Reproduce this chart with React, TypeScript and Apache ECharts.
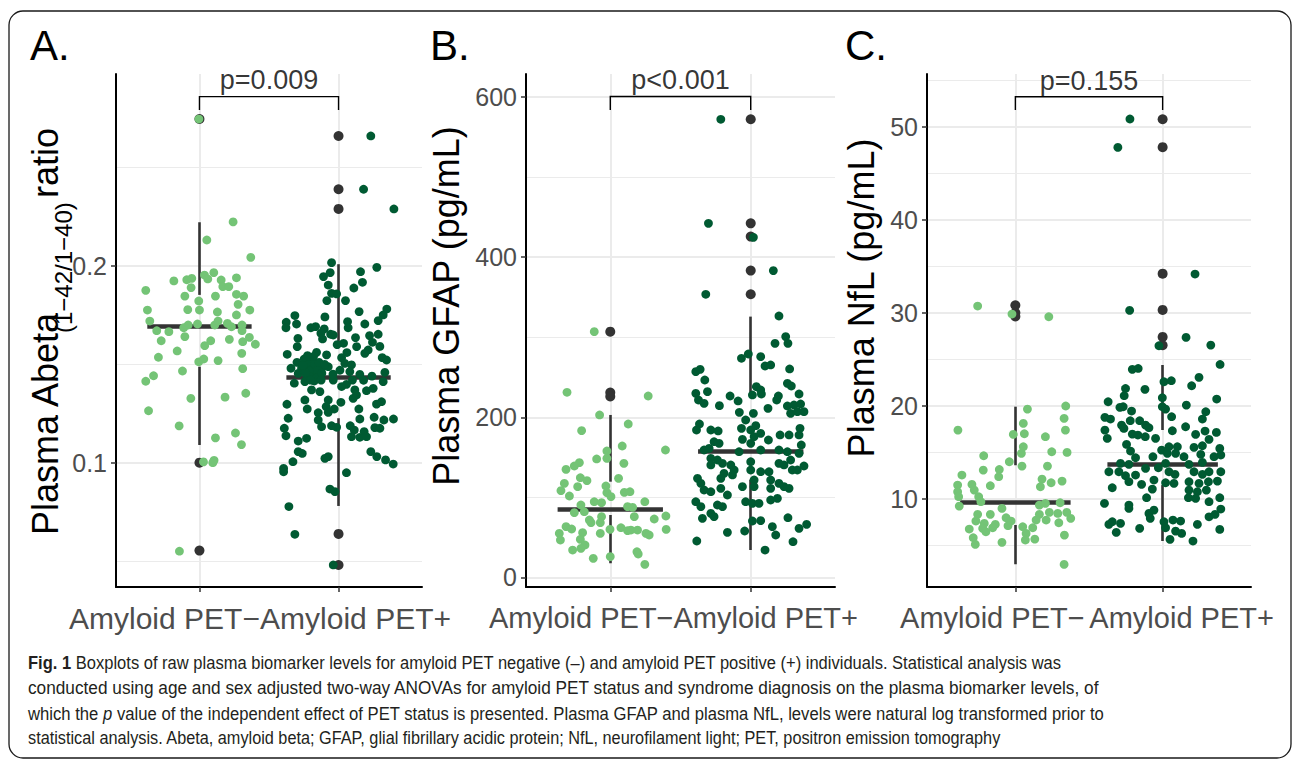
import { useEffect, useRef } from 'react';
import * as echarts from 'echarts';

// ---------- data ----------
const CATEGORIES = ['Amyloid PET−', 'Amyloid PET+'];
const P_LABELS = ['p=0.009', 'p<0.001', 'p=0.155'];

const ABETA_TICKS = [0.1, 0.2];
const ABETA_MINOR = [0.05, 0.15, 0.25];
const GFAP_TICKS = [0, 200, 400, 600];
const GFAP_MINOR = [100, 300, 500];
const NFL_TICKS = [10, 20, 30, 40, 50];
const NFL_MINOR = [5, 15, 25, 35, 45, 55];

// box stats: [lower whisker, Q1, median, Q3, upper whisker]
const ABETA_BOX_NEG = [0.109, 0.1488, 0.1695, 0.1853, 0.2222];
const ABETA_BOX_POS = [0.078, 0.1226, 0.1432, 0.159, 0.2009];
const GFAP_BOX_NEG = [17.5, 78, 84.9, 119.5, 202.9];
const GFAP_BOX_POS = [34.1, 122, 157, 225, 325.8];
const NFL_BOX_NEG = [2.95, 7.17, 9.61, 13.6, 19.9];
const NFL_BOX_POS = [5.45, 11.47, 13.73, 17.39, 24.38];

const ABETA_OUT_NEG = [0.2747, 0.1, 0.0553];
const ABETA_OUT_POS = [0.2661, 0.239, 0.229, 0.0638, 0.048];
const GFAP_OUT_NEG = [307, 231, 226];
const GFAP_OUT_POS = [572.4, 442.4, 425.8, 383.3, 353.7];
const NFL_OUT_NEG = [30.8, 30.0, 29.6];
const NFL_OUT_POS = [50.8, 47.8, 34.2, 30.3, 27.4, 26.5];

// jittered points [x position, value]
const ABETA_NEG = [
  [0.996,0.2747],[1.242,0.2224],[1.053,0.2132],[1.369,0.2044],[0.614,0.1876],[0.816,0.1924],[0.909,0.1930],[0.945,0.1937],[0.940,0.1890],[1.036,0.1954],[1.060,0.1934],[1.103,0.1966],[1.156,0.1929],[1.168,0.1895],[1.211,0.1895],[1.266,0.1940],[0.895,0.1847],[0.995,0.1822],[1.115,0.1847],[1.266,0.1856],[1.318,0.1847],[1.278,0.1805],[0.626,0.1776],[0.916,0.1778],[1.000,0.1776],[1.129,0.1766],[1.266,0.1751],[1.362,0.1776],[0.643,0.1720],[0.693,0.1671],[0.780,0.1666],[0.887,0.1686],[0.919,0.1700],[0.986,0.1705],[1.110,0.1700],[1.134,0.1720],[1.201,0.1708],[1.230,0.1691],[1.306,0.1700],[1.306,0.1671],[0.895,0.1641],[0.725,0.1620],[1.081,0.1620],[1.038,0.1595],[1.215,0.1627],[1.311,0.1615],[1.359,0.1637],[1.402,0.1602],[0.840,0.1568],[0.705,0.1536],[0.995,0.1513],[1.031,0.1527],[1.134,0.1519],[1.304,0.1556],[1.311,0.1478],[0.670,0.1442],[0.614,0.1414],[0.878,0.1466],[0.938,0.1327],[1.184,0.1333],[1.333,0.1353],[0.634,0.1264],[0.854,0.1187],[1.115,0.1126],[1.259,0.1151],[1.302,0.1092],[1.029,0.1004],[1.096,0.1000],[1.105,0.1012],[0.856,0.0550]
];
const ABETA_POS = [
  [2.232,0.2661],[2.180,0.2390],[2.398,0.2290],[1.950,0.2017],[2.275,0.1993],[1.940,0.1966],[2.158,0.1971],[1.892,0.1946],[2.172,0.1917],[1.926,0.1903],[2.110,0.1888],[1.950,0.1861],[1.986,0.1858],[2.050,0.1824],[1.916,0.1824],[2.347,0.1781],[2.148,0.1768],[1.686,0.1748],[1.902,0.1741],[2.321,0.1751],[1.624,0.1714],[1.698,0.1705],[2.065,0.1717],[2.189,0.1705],[2.285,0.1722],[1.622,0.1686],[1.801,0.1686],[1.835,0.1692],[1.897,0.1680],[2.069,0.1686],[1.873,0.1658],[1.943,0.1653],[1.962,0.1649],[2.223,0.1646],[2.285,0.1653],[1.708,0.1632],[1.885,0.1629],[2.122,0.1636],[2.036,0.1607],[1.703,0.1590],[2.244,0.1612],[2.297,0.1591],[2.213,0.1573],[2.189,0.1556],[1.631,0.1551],[1.842,0.1561],[1.914,0.1548],[1.777,0.1544],[2.022,0.1534],[2.314,0.1534],[2.345,0.1522],[1.701,0.1510],[1.753,0.1527],[1.806,0.1517],[2.045,0.1505],[2.093,0.1497],[1.658,0.1480],[1.734,0.1480],[1.782,0.1480],[1.830,0.1488],[1.878,0.1480],[1.926,0.1488],[2.081,0.1463],[2.153,0.1449],[2.333,0.1459],[1.710,0.1454],[1.770,0.1446],[1.818,0.1454],[1.866,0.1437],[1.682,0.1404],[1.758,0.1412],[1.825,0.1415],[1.962,0.1420],[2.180,0.1419],[2.321,0.1412],[2.022,0.1387],[2.057,0.1398],[1.806,0.1370],[1.866,0.1361],[2.117,0.1370],[2.201,0.1366],[2.249,0.1378],[2.129,0.1344],[2.105,0.1327],[1.758,0.1319],[1.926,0.1319],[2.017,0.1307],[2.309,0.1310],[2.273,0.1298],[1.629,0.1297],[1.911,0.1285],[1.775,0.1273],[1.969,0.1273],[2.146,0.1273],[1.854,0.1254],[1.926,0.1256],[1.638,0.1226],[1.854,0.1217],[2.153,0.1222],[2.256,0.1231],[2.326,0.1217],[2.395,0.1222],[1.878,0.1183],[1.950,0.1188],[1.986,0.1180],[2.084,0.1188],[2.261,0.1178],[2.297,0.1175],[1.610,0.1175],[2.113,0.1166],[2.184,0.1158],[1.622,0.1137],[2.093,0.1132],[2.153,0.1129],[2.201,0.1132],[1.770,0.1124],[1.710,0.1110],[1.710,0.1056],[1.739,0.1047],[2.232,0.1056],[2.275,0.1031],[1.926,0.1031],[1.902,0.1022],[1.672,0.1005],[2.338,0.1014],[2.393,0.0993],[1.605,0.0971],[1.605,0.0954],[2.057,0.0949],[1.938,0.0866],[1.974,0.0853],[1.643,0.0777],[1.686,0.0636],[1.962,0.0480],
  [1.770,0.1530],[1.790,0.1500],[1.810,0.1475],[1.830,0.1500],[1.850,0.1470],[1.790,0.1440],[1.840,0.1430],[1.760,0.1460],[1.800,0.1420],[1.860,0.1510],[1.820,0.1540],[1.880,0.1455],[1.745,0.1495],[1.875,0.1420],[1.900,0.1500],[1.960,0.1450],[2.010,0.1470],[2.100,0.1420],[2.240,0.1440],[2.060,0.1560],[1.990,0.1600],[2.130,0.1590]
];
const GFAP_NEG = [
  [0.886,307.0],[0.692,231.2],[1.270,226.6],[0.924,202.9],[1.128,191.6],[0.796,183.3],[1.085,164.1],[1.393,159.1],[0.976,157.9],[0.976,148.7],[0.903,147.9],[0.780,143.3],[0.744,139.1],[0.685,134.9],[1.097,142.4],[1.059,123.7],[0.787,124.5],[0.834,120.8],[0.673,117.4],[0.768,113.3],[0.969,114.1],[0.649,108.3],[0.976,105.8],[1.100,106.2],[1.140,107.0],[0.709,101.6],[1.005,100.8],[0.886,94.5],[0.938,93.3],[1.246,94.5],[0.791,90.4],[1.123,88.3],[1.159,87.4],[0.744,80.8],[0.815,82.0],[0.851,71.6],[0.938,75.8],[1.171,75.8],[1.313,72.9],[1.396,76.6],[0.863,68.3],[0.929,68.3],[0.685,63.3],[0.725,60.4],[0.998,59.9],[1.076,62.0],[1.123,58.3],[1.147,59.1],[1.194,59.1],[1.254,54.9],[1.277,52.9],[1.398,59.9],[0.637,54.9],[0.803,55.8],[0.929,54.9],[0.645,46.6],[0.787,47.4],[0.820,40.4],[0.732,34.1],[0.791,36.2],[1.190,32.0],[1.199,29.1],[0.879,23.7],[1.000,25.8],[1.246,16.2]
];
const GFAP_POS = [
  [1.787,572.4],[1.699,442.4],[2.019,424.9],[2.161,383.3],[1.680,353.7],[2.201,326.6],[2.249,300.8],[2.173,292.4],[2.265,292.4],[1.983,279.1],[1.934,273.7],[2.071,275.8],[2.102,264.1],[2.142,265.4],[1.609,257.0],[1.640,259.9],[1.673,246.6],[2.277,260.4],[2.261,242.4],[2.289,239.1],[2.040,238.3],[2.071,234.1],[2.012,227.9],[1.609,229.9],[1.692,232.0],[1.628,221.6],[1.668,217.4],[1.853,226.6],[1.910,220.4],[1.777,214.5],[2.076,229.1],[2.197,226.6],[2.185,221.6],[2.344,229.1],[2.123,211.2],[2.261,214.1],[2.308,215.4],[2.355,216.6],[2.284,204.9],[2.332,207.0],[2.379,207.0],[1.919,206.2],[2.019,204.9],[1.964,196.6],[1.635,191.6],[1.614,184.1],[1.716,184.1],[1.768,182.9],[1.934,186.2],[2.000,184.1],[2.036,189.5],[2.071,179.9],[2.126,171.6],[2.209,177.9],[2.273,177.9],[2.344,177.9],[2.351,186.2],[1.739,169.5],[1.775,167.4],[1.941,172.4],[2.024,175.8],[2.000,167.4],[1.668,159.1],[1.704,161.2],[1.917,157.0],[2.071,159.1],[2.201,159.1],[2.261,157.0],[2.344,154.9],[2.360,165.4],[1.716,148.7],[1.763,146.6],[1.799,142.4],[1.858,140.4],[1.716,140.4],[1.882,134.1],[2.000,144.5],[2.201,142.4],[2.237,140.4],[2.284,146.6],[2.379,139.1],[2.296,134.1],[2.332,134.1],[1.810,129.9],[1.787,123.7],[1.870,127.9],[2.000,134.1],[2.071,132.0],[2.130,132.0],[1.621,123.7],[1.645,117.4],[2.024,121.6],[2.142,121.6],[2.201,117.4],[2.273,111.2],[1.668,109.1],[1.716,107.0],[1.787,111.2],[1.834,102.9],[1.941,113.3],[2.024,113.3],[2.142,111.2],[2.237,113.3],[1.609,94.5],[1.645,88.3],[1.763,90.4],[1.799,88.3],[1.964,94.5],[2.012,92.4],[2.059,92.4],[2.142,96.6],[2.190,98.7],[1.716,79.9],[1.739,75.8],[1.656,73.7],[2.012,70.4],[2.071,70.8],[2.265,74.5],[2.154,63.3],[2.178,52.9],[2.344,61.2],[2.398,66.2],[1.834,56.2],[1.957,57.9],[1.616,45.4],[2.301,44.5],[2.102,34.1]
];
const NFL_NEG = [
  [0.744,30.72],[0.977,29.86],[1.227,29.57],[1.082,19.64],[1.342,19.97],[1.331,18.64],[1.054,18.10],[1.340,17.38],[0.610,17.38],[0.986,16.92],[1.061,16.99],[1.204,16.67],[1.054,15.59],[1.041,14.88],[1.247,15.05],[1.351,14.98],[0.785,14.62],[0.959,13.98],[1.045,13.51],[1.218,13.51],[0.782,13.08],[0.891,13.15],[0.637,12.55],[0.887,12.37],[1.181,12.11],[1.243,11.72],[1.317,11.90],[0.608,11.47],[0.705,11.54],[0.830,11.40],[1.170,11.29],[0.608,10.75],[0.721,10.93],[0.615,10.22],[0.751,10.22],[0.766,9.68],[0.619,9.21],[1.163,9.32],[1.204,9.50],[1.304,9.57],[0.909,8.96],[0.744,8.32],[0.830,8.32],[1.163,8.32],[1.231,8.53],[1.288,8.42],[1.349,8.53],[0.732,7.60],[0.937,7.96],[0.971,7.60],[1.141,7.71],[1.209,7.71],[1.376,7.89],[0.789,7.35],[0.864,7.24],[0.687,6.74],[0.778,6.81],[0.846,6.88],[0.950,7.10],[1.050,6.99],[1.118,6.88],[1.295,7.42],[0.800,6.45],[1.073,6.27],[1.333,6.09],[0.714,5.81],[1.068,5.56],[1.132,5.66],[0.909,5.31],[0.728,5.09],[1.331,2.94]
];
const NFL_POS = [
  [1.778,50.83],[1.696,47.78],[2.220,34.16],[1.776,30.25],[2.159,27.35],[1.975,26.45],[2.327,26.52],[2.390,24.44],[1.794,23.91],[1.834,24.01],[2.009,22.58],[2.059,22.69],[2.247,23.05],[2.197,22.15],[1.748,21.86],[1.880,21.76],[2.367,20.72],[1.630,20.43],[1.739,21.08],[1.998,20.86],[2.161,20.07],[1.710,19.82],[1.732,19.89],[1.998,19.89],[2.020,19.64],[1.789,19.43],[2.293,19.36],[1.608,18.75],[1.646,18.57],[2.061,18.82],[2.270,18.57],[1.780,18.39],[1.844,18.39],[1.721,17.92],[1.884,17.92],[2.156,17.74],[1.737,17.56],[1.907,17.64],[1.608,17.38],[2.066,17.31],[2.224,16.92],[2.365,17.13],[1.794,16.95],[1.832,16.85],[1.882,16.67],[1.952,16.49],[2.288,17.28],[1.624,16.49],[2.315,16.38],[1.755,15.84],[2.043,15.59],[2.100,15.59],[2.213,15.52],[2.270,15.70],[2.388,15.41],[1.782,15.13],[1.993,15.23],[2.032,14.88],[1.816,14.41],[1.934,14.52],[2.088,14.88],[2.145,14.52],[2.259,14.77],[2.349,14.52],[2.395,14.70],[1.714,13.80],[1.771,13.69],[2.020,13.80],[2.179,13.69],[2.270,13.91],[1.635,12.90],[1.703,12.90],[1.748,12.47],[1.816,12.55],[1.884,13.26],[1.971,13.33],[2.043,12.90],[2.084,12.62],[2.213,12.90],[2.270,12.62],[2.315,12.90],[2.395,12.90],[1.771,11.83],[1.857,11.54],[1.941,12.01],[2.020,11.72],[2.077,11.65],[2.179,11.83],[2.247,11.65],[2.311,11.83],[2.372,11.90],[1.658,11.18],[1.930,11.04],[2.179,10.93],[2.236,10.75],[2.297,10.93],[1.891,10.11],[2.175,10.11],[2.224,10.04],[2.388,10.11],[1.605,9.50],[1.771,9.32],[2.315,9.68],[1.771,8.96],[1.907,8.42],[1.941,8.78],[1.916,7.89],[2.395,8.89],[2.315,8.06],[2.356,8.32],[1.658,7.53],[1.635,7.24],[1.714,7.35],[2.009,7.53],[2.070,7.71],[2.122,7.60],[2.236,7.24],[1.844,6.81],[2.020,6.88],[2.088,6.52],[2.129,6.27],[2.388,6.70],[1.685,6.38],[2.050,5.63],[2.206,5.45]
];

// ---------- layout / style ----------
const FONT = '"Liberation Sans", Arial, Helvetica, sans-serif';
const CAPTION_FONT = '"Liberation Sans", Arial, sans-serif';
const LIGHT = '#74C476';
const DARK = '#005A32';
const OUT = '#333333';
const GRID_COLOR = '#EBEBEB';

const PANELS = [
  {
    left: 116, top: 74, width: 306, height: 513, yMin: 0.0368, yMax: 0.2976,
    ticks: ABETA_TICKS, minor: ABETA_MINOR, fmt: (v: number) => v.toFixed(1),
    neg: ABETA_NEG, pos: ABETA_POS, boxNeg: ABETA_BOX_NEG, boxPos: ABETA_BOX_POS,
    outNeg: ABETA_OUT_NEG, outPos: ABETA_OUT_POS,
    bracket: [0.2793, 0.2861], pY: 0.2943, shiftL: 35, shiftR: 17, labelFont: 30,
  },
  {
    left: 526, top: 74, width: 309, height: 513, yMin: -12.1, yMax: 629,
    ticks: GFAP_TICKS, minor: GFAP_MINOR, fmt: (v: number) => String(v),
    neg: GFAP_NEG, pos: GFAP_POS, boxNeg: GFAP_BOX_NEG, boxPos: GFAP_BOX_POS,
    outNeg: GFAP_OUT_NEG, outPos: GFAP_OUT_POS,
    bracket: [584.1, 600.8], pY: 621, shiftL: 29, shiftR: 15, labelFont: 29,
  },
  {
    left: 927, top: 74, width: 324, height: 513, yMin: 0.51, yMax: 55.67,
    ticks: NFL_TICKS, minor: NFL_MINOR, fmt: (v: number) => String(v),
    neg: NFL_NEG, pos: NFL_POS, boxNeg: NFL_BOX_NEG, boxPos: NFL_BOX_POS,
    outNeg: NFL_OUT_NEG, outPos: NFL_OUT_POS,
    bracket: [51.8, 53.23], pY: 54.97, shiftL: 23, shiftR: 19, labelFont: 29,
  },
];

const X_MIN = 0.4;
const X_MAX = 2.6;

function buildPanel(i: number, p: any) {
  const grid = { left: p.left, top: p.top, width: p.width, height: p.height, containLabel: false };
  const xAxis = {
    gridIndex: i, type: 'value', min: X_MIN, max: X_MAX, z: 5,
    axisLine: { show: true, onZero: false, lineStyle: { color: '#000', width: 2 } },
    axisTick: { show: true, customValues: [1, 2], length: 5, lineStyle: { color: '#333', width: 1.5 } },
    axisLabel: {
      customValues: [1, 2], margin: 16,
      formatter: (v: number) => (Math.round(v) === 1 ? `{l|${CATEGORIES[0]}}` : `{r|${CATEGORIES[1]}}`),
      rich: {
        l: { fontFamily: FONT, fontSize: p.labelFont, color: '#4D4D4D', padding: [0, p.shiftL * 2, 0, 0] },
        r: { fontFamily: FONT, fontSize: p.labelFont, color: '#4D4D4D', padding: [0, 0, 0, p.shiftR * 2] },
      },
    },
    splitLine: { show: false },
  };
  const yAxis = {
    gridIndex: i, type: 'value', min: p.yMin, max: p.yMax, z: 5,
    axisLine: { show: true, onZero: false, lineStyle: { color: '#000', width: 2 } },
    axisTick: { show: true, customValues: p.ticks, length: 5, lineStyle: { color: '#333', width: 1.5 } },
    axisLabel: { customValues: p.ticks, margin: 9, color: '#4D4D4D', fontSize: 25, fontFamily: FONT, formatter: p.fmt },
    splitLine: { show: false },
  };
  const gridLines = {
    type: 'lines', coordinateSystem: 'cartesian2d', xAxisIndex: i, yAxisIndex: i, z: 1, silent: true,
    lineStyle: { color: GRID_COLOR, width: 1, opacity: 1 },
    data: [
      ...p.minor.map((v: number) => ({ coords: [[X_MIN, v], [X_MAX, v]], lineStyle: { color: GRID_COLOR, width: 1, opacity: 1 } })),
      ...p.ticks.map((v: number) => ({ coords: [[X_MIN, v], [X_MAX, v]], lineStyle: { color: GRID_COLOR, width: 2, opacity: 1 } })),
      { coords: [[1, p.yMin], [1, p.yMax]], lineStyle: { color: GRID_COLOR, width: 2, opacity: 1 } },
      { coords: [[2, p.yMin], [2, p.yMax]], lineStyle: { color: GRID_COLOR, width: 2, opacity: 1 } },
    ],
  };
  const boxes = [p.boxNeg, p.boxPos];
  const whiskerStyle = { color: OUT, width: 2.6, opacity: 1 };
  const whiskers = {
    type: 'lines', coordinateSystem: 'cartesian2d', xAxisIndex: i, yAxisIndex: i, z: 2, silent: true,
    lineStyle: whiskerStyle,
    data: boxes.flatMap((b: number[], k: number) => [
      { coords: [[k + 1, b[3]], [k + 1, b[4]]], lineStyle: whiskerStyle },
      { coords: [[k + 1, b[0]], [k + 1, b[1]]], lineStyle: whiskerStyle },
    ]),
  };
  const medians = {
    type: 'lines', coordinateSystem: 'cartesian2d', xAxisIndex: i, yAxisIndex: i, z: 2, silent: true,
    lineStyle: { color: OUT, width: 4.5, opacity: 1 },
    data: boxes.map((b: number[], k: number) => ({ coords: [[k + 0.625, b[2]], [k + 1.375, b[2]]] })),
  };
  const outliers = {
    type: 'scatter', xAxisIndex: i, yAxisIndex: i, z: 3, silent: true, symbolSize: 10,
    itemStyle: { color: OUT, opacity: 1 },
    data: [...p.outNeg.map((v: number) => [1, v]), ...p.outPos.map((v: number) => [2, v])],
  };
  const negPts = {
    type: 'scatter', xAxisIndex: i, yAxisIndex: i, z: 4, silent: true, symbolSize: 8.8,
    itemStyle: { color: LIGHT, opacity: 1 }, data: p.neg,
  };
  const posPts = {
    type: 'scatter', xAxisIndex: i, yAxisIndex: i, z: 4, silent: true, symbolSize: 8.8,
    itemStyle: { color: DARK, opacity: 1 }, data: p.pos,
  };
  const bracket = {
    type: 'lines', coordinateSystem: 'cartesian2d', polyline: true, xAxisIndex: i, yAxisIndex: i, z: 6, silent: true,
    lineStyle: { color: '#000', width: 1.4, opacity: 1 },
    data: [{ coords: [[1, p.bracket[0]], [1, p.bracket[1]], [2, p.bracket[1]], [2, p.bracket[0]]] }],
  };
  const pLabel = {
    type: 'scatter', xAxisIndex: i, yAxisIndex: i, z: 6, silent: true, symbolSize: 0,
    data: [[1.5, p.pY]],
    label: { show: true, position: 'inside', formatter: P_LABELS[i], fontSize: 27, color: '#000', fontFamily: FONT },
  };
  return { grid, xAxis, yAxis, series: [gridLines, whiskers, medians, outliers, negPts, posPts, bracket, pLabel] };
}

function rotText(text: string, x: number, y: number, size: number, align: string) {
  return {
    type: 'text', x, y, rotation: Math.PI / 2, silent: true,
    style: {
      text, fill: '#000', fontSize: size, fontFamily: FONT,
      textAlign: align, align, textVerticalAlign: 'middle', verticalAlign: 'middle',
    },
  };
}

function captionText(text: string, y: number, scaleX: number, rich?: any) {
  return {
    type: 'text', x: 28, y, silent: true, scaleX,
    style: {
      text, fill: '#231F20', fontSize: 18.5, fontFamily: CAPTION_FONT,
      textAlign: 'left', align: 'left', textVerticalAlign: 'middle', verticalAlign: 'middle',
      rich,
    },
  };
}

function letter(text: string, x: number) {
  return {
    type: 'text', x, y: 45, silent: true,
    style: { text, fontSize: 42, fontFamily: FONT, fill: '#000', textAlign: 'left', align: 'left', textVerticalAlign: 'middle', verticalAlign: 'middle' },
  };
}

export default function App() {
  const ref = useRef<HTMLDivElement>(null);
  useEffect(() => {
    if (!ref.current) return;
    const chart = echarts.init(ref.current, undefined, { renderer: 'svg' });
    const parts = PANELS.map((p, i) => buildPanel(i, p));
    const captionRich = {
      b: { fontWeight: 'bold', fontSize: 18.5, fontFamily: CAPTION_FONT, fill: '#231F20', color: '#231F20' },
      i: { fontStyle: 'italic', fontSize: 18.5, fontFamily: CAPTION_FONT, fill: '#231F20', color: '#231F20' },
    };
    chart.setOption({
      animation: false,
      backgroundColor: '#fff',
      grid: parts.map((q) => q.grid),
      xAxis: parts.map((q) => q.xAxis),
      yAxis: parts.map((q) => q.yAxis),
      series: parts.flatMap((q) => q.series),
      graphic: [
        {
          type: 'rect', silent: true, z: -10,
          shape: { x: 9, y: 11, width: 1282, height: 747, r: 14 },
          style: { fill: 'none', stroke: '#1a1a1a', lineWidth: 1.3 },
        },
        letter('A.', 30),
        letter('B.', 430),
        letter('C.', 845),
        rotText('Plasma Abeta', 45, 535, 36, 'left'),
        rotText('(1−42/1−40)', 63, 333, 24, 'left'),
        rotText('ratio', 45, 198, 36, 'left'),
        rotText('Plasma GFAP (pg/mL)', 446, 306, 36, 'center'),
        rotText('Plasma NfL (pg/mL)', 861, 298, 36, 'center'),
        captionText('{b|Fig. 1} Boxplots of raw plasma biomarker levels for amyloid PET negative (–) and amyloid PET positive (+) individuals. Statistical analysis was', 663, 0.894, captionRich),
        captionText('conducted using age and sex adjusted two-way ANOVAs for amyloid PET status and syndrome diagnosis on the plasma biomarker levels, of', 688, 0.932),
        captionText('which the {i|p} value of the independent effect of PET status is presented. Plasma GFAP and plasma NfL, levels were natural log transformed prior to', 714, 0.901, captionRich),
        captionText('statistical analysis. Abeta, amyloid beta; GFAP, glial fibrillary acidic protein; NfL, neurofilament light; PET, positron emission tomography', 738, 0.88),
      ],
    });
    return () => chart.dispose();
  }, []);
  return (
    <div
      ref={ref}
      style={{ position: 'fixed', left: 0, top: 0, width: 1293, height: 761, background: '#fff' }}
    />
  );
}
